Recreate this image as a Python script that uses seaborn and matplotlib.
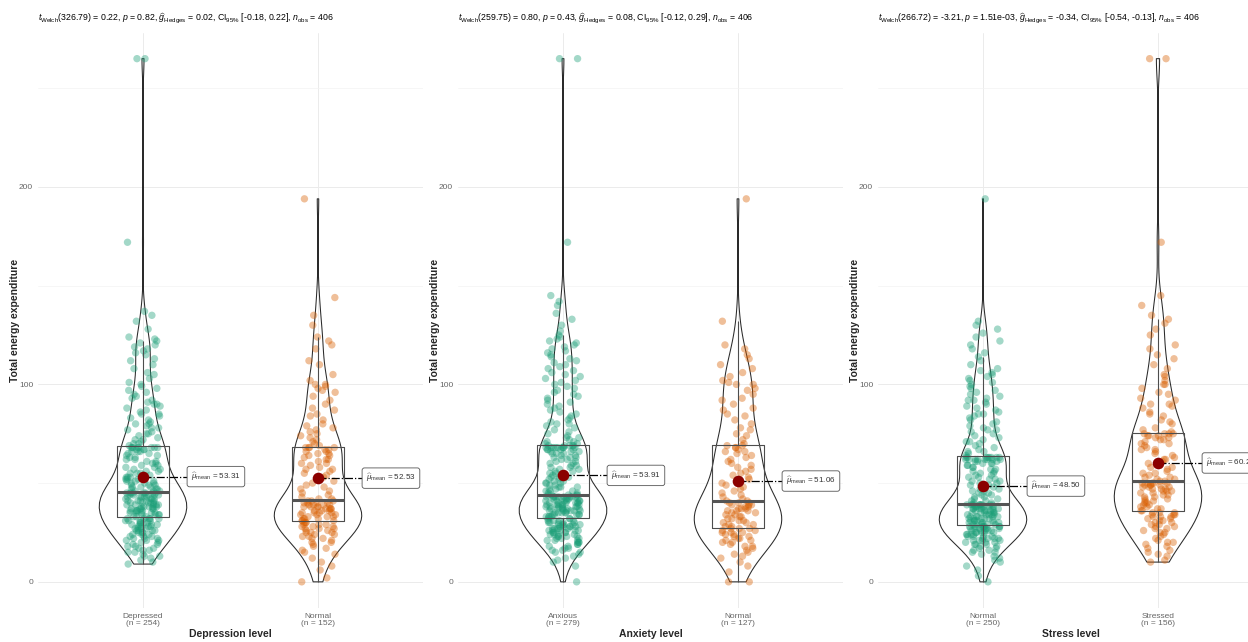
import numpy as np
import pandas as pd
import matplotlib
matplotlib.use("Agg")
import matplotlib.pyplot as plt
import seaborn as sns

# Total energy expenditure values, one list per group
dep_depressed = [
    9, 10, 11, 12, 13, 13, 14, 15, 15, 16, 16, 17, 17, 18, 18, 19, 19, 20, 20, 21,
    21, 21, 22, 22, 22, 23, 23, 23, 24, 24, 24, 25, 25, 25, 26, 26, 26, 26, 27, 27,
    27, 27, 28, 28, 28, 28, 29, 29, 29, 29, 30, 30, 30, 30, 31, 31, 31, 31, 32, 32,
    32, 32, 32,
    33, 33, 33, 34, 34, 34, 34, 35, 35, 35, 35, 35, 36, 36, 36, 36, 36, 37, 37, 37,
    37, 37, 38, 38, 38, 38, 38, 39, 39, 39, 39, 39, 40, 40, 40, 40, 40, 41, 41, 41,
    41, 41, 42, 42, 42, 42, 43, 43, 43, 43, 43, 44, 44, 44, 44, 44, 45, 45, 45, 45,
    45, 45, 45, 45,
    46, 46, 46, 47, 47, 47, 48, 48, 48, 49, 49, 49, 50, 50, 50, 51, 51, 51, 52, 52,
    52, 53, 53, 53, 54, 54, 55, 55, 55, 56, 56, 57, 57, 58, 58, 59, 59, 60, 60, 61,
    61, 62, 62, 63, 63, 64, 64, 65, 65, 66, 66, 66, 67, 67, 67, 68, 68, 68, 68, 68,
    68, 68, 68,
    69, 70, 70, 71, 72, 72, 73, 74, 75, 75, 76, 77, 78, 78, 79, 80, 80, 81, 82, 83,
    84, 85, 86, 87, 88, 89, 90, 91, 92, 93, 94, 95, 96, 97, 98, 99, 100, 101, 103, 105,
    106, 108, 110, 112, 113, 115, 116, 117, 118, 119, 120, 121, 122, 123, 124, 128, 132, 135, 137,
    85, 90, 172, 265, 265,
]
dep_normal = [
    0, 2, 6, 8, 10, 12, 14, 15, 16, 17, 18, 19, 20, 20, 21, 22, 22, 23, 23, 24,
    24, 25, 25, 25, 26, 26, 27, 27, 27, 28, 28, 28, 29, 29, 29, 30, 30, 30,
    31, 31, 31, 32, 32, 32, 33, 33, 33, 34, 34, 34, 35, 35, 35, 35, 36, 36, 36, 37,
    37, 37, 37, 38, 38, 38, 38, 39, 39, 39, 39, 40, 40, 40, 40, 41, 41, 41,
    42, 42, 43, 44, 45, 46, 47, 48, 49, 50, 51, 52, 53, 54, 55, 56, 57, 57, 58, 59,
    60, 60, 61, 62, 62, 63, 64, 64, 65, 65, 66, 66, 67, 67, 68, 68, 68, 68,
    69, 70, 71, 72, 73, 74, 75, 76, 77, 78, 79, 80, 82, 84, 85, 87, 88, 90, 92, 94,
    96, 97, 98, 99, 100, 100, 102, 105, 110, 112, 118, 120, 122, 124, 130, 135, 144, 194,
]
anx_anxious = [
    0, 8, 10, 11, 12, 13, 14, 15, 15, 16, 16, 17, 17, 18, 18, 19, 19, 20, 20, 20,
    21, 21, 21, 22, 22, 22, 23, 23, 23, 23, 24, 24, 24, 24, 25, 25, 25, 25, 26, 26,
    26, 26, 26, 27, 27, 27, 27, 27, 28, 28, 28, 28, 28, 29, 29, 29, 29, 29, 30, 30,
    30, 30, 30, 31, 31, 31, 31, 32, 32, 32,
    33, 33, 33, 33, 34, 34, 34, 34, 34, 35, 35, 35, 35, 35, 36, 36, 36, 36, 36, 36,
    37, 37, 37, 37, 37, 37, 38, 38, 38, 38, 38, 38, 39, 39, 39, 39, 39, 39, 40, 40,
    40, 40, 40, 40, 41, 41, 41, 41, 41, 41, 42, 42, 42, 42, 42, 42, 43, 43, 43, 43,
    43, 43, 43, 43, 43, 44, 44, 44, 44, 44,
    45, 45, 46, 46, 46, 47, 47, 48, 48, 48, 49, 49, 50, 50, 50, 51, 51, 52, 52, 53,
    53, 53, 54, 54, 55, 55, 56, 56, 57, 57, 58, 58, 59, 59, 60, 60, 61, 61, 62, 62,
    63, 63, 63, 64, 64, 65, 65, 65, 66, 66, 66, 67, 67, 67, 67, 68, 68, 68, 68, 68,
    68, 68, 68, 68, 69, 69, 69, 69, 69,
    70, 70, 71, 71, 72, 73, 73, 74, 75, 76, 77, 78, 79, 80, 80, 81, 82, 83, 84, 85,
    86, 87, 88, 89, 90, 91, 92, 93, 94, 95, 96, 97, 98, 99, 100, 101, 102, 103, 104, 105,
    106, 107, 108, 109, 110, 111, 112, 113, 114, 115, 116, 117, 118, 119, 120, 121, 122, 123, 124, 125,
    127, 130, 133, 136, 140, 142, 145, 172, 265, 265,
]
anx_normal = [
    0, 0, 5, 8, 10, 12, 13, 14, 15, 16, 17, 18, 18, 19, 20, 20, 21, 21, 22, 22,
    23, 23, 24, 24, 25, 25, 25, 26, 26, 27, 27, 27,
    28, 28, 29, 29, 30, 30, 31, 31, 32, 32, 33, 33, 34, 34, 35, 35, 36, 36, 36, 37,
    37, 37, 38, 38, 39, 39, 39, 40, 40, 40, 41, 41,
    42, 43, 44, 45, 46, 47, 48, 49, 50, 51, 52, 53, 54, 55, 56, 57, 58, 59, 60, 61,
    62, 63, 64, 65, 66, 66, 67, 68, 68, 69, 69,
    70, 72, 74, 75, 77, 78, 80, 82, 84, 85, 87, 88, 90, 92, 93, 95, 97, 98, 100, 100,
    101, 102, 104, 106, 108, 110, 113, 115, 118, 120, 132, 194,
]
str_normal = [
    0, 3, 6, 8, 10, 11, 12, 13, 14, 15, 15, 16, 16, 17, 17, 18, 18, 19, 19, 19,
    20, 20, 20, 21, 21, 21, 21, 22, 22, 22, 22, 23, 23, 23, 23, 24, 24, 24, 24, 25,
    25, 25, 25, 25, 26, 26, 26, 26, 26, 27, 27, 27, 27, 27, 27, 28, 28, 28, 28, 28,
    28, 28,
    29, 29, 29, 29, 29, 30, 30, 30, 30, 30, 31, 31, 31, 31, 31, 32, 32, 32, 32, 32,
    33, 33, 33, 33, 33, 34, 34, 34, 34, 34, 35, 35, 35, 35, 35, 36, 36, 36, 36, 36,
    37, 37, 37, 37, 37, 37, 38, 38, 38, 38, 38, 38, 38, 39, 39, 39, 39, 39, 39, 39,
    39, 39, 39,
    40, 40, 41, 41, 42, 42, 43, 43, 44, 44, 45, 45, 46, 46, 47, 47, 48, 48, 49, 49,
    50, 50, 51, 51, 52, 52, 53, 53, 54, 54, 55, 55, 56, 56, 57, 57, 58, 58, 59, 59,
    60, 60, 60, 61, 61, 61, 62, 62, 62, 62, 62, 62, 62, 62, 63, 63, 63, 63, 63, 63,
    63, 63,
    64, 65, 66, 67, 68, 69, 70, 71, 72, 73, 74, 75, 76, 77, 78, 79, 80, 81, 82, 83,
    84, 85, 86, 87, 88, 89, 90, 91, 92, 93, 94, 95, 96, 97, 98, 99, 100, 101, 102, 103,
    104, 105, 106, 107, 108, 110, 112, 114, 116, 118, 120, 122, 124, 126, 128, 130, 132, 194,
    66, 71, 77, 85, 92,
]
str_stressed = [
    10, 11, 13, 14, 15, 16, 17, 18, 19, 20, 20, 21, 22, 23, 24, 25, 25, 26, 27, 27,
    28, 28, 29, 29, 30, 30, 31, 31, 32, 32, 33, 33, 33, 34, 34, 34, 35, 35, 35,
    36, 36, 37, 37, 38, 38, 39, 39, 40, 40, 41, 41, 42, 42, 43, 43, 44, 44, 45, 45,
    46, 46, 46, 47, 47, 47, 48, 48, 48, 49, 49, 49, 49, 50, 50, 50, 50, 50, 51,
    51, 52, 52, 53, 53, 54, 55, 55, 56, 57, 58, 58, 59, 60, 61, 62, 62, 63, 64, 65,
    66, 67, 67, 68, 69, 70, 70, 71, 72, 72, 73, 73, 74, 74, 74, 75, 75, 75, 75,
    76, 77, 78, 80, 81, 82, 84, 85, 86, 88, 89, 90, 92, 93, 95, 96, 98, 100, 100, 102,
    104, 105, 108, 110, 113, 115, 118, 120, 125, 128, 131, 133, 135, 140, 145, 172, 265, 265,
    90,
]

group_labels = [["Depressed", "Normal"], ["Anxious", "Normal"], ["Normal", "Stressed"]]
group_values = [[dep_depressed, dep_normal], [anx_anxious, anx_normal], [str_normal, str_stressed]]
x_titles = ["Depression level", "Anxiety level", "Stress level"]
mean_values = [[53.31, 52.53], [53.91, 51.06], [48.50, 60.20]]
subtitles = [
    r"$t_{\mathrm{Welch}}$(326.79) = 0.22, $p$ = 0.82, $\widehat{g}_{\mathrm{Hedges}}$ = 0.02, CI$_{95\%}$ [-0.18, 0.22], $n_{\mathrm{obs}}$ = 406",
    r"$t_{\mathrm{Welch}}$(259.75) = 0.80, $p$ = 0.43, $\widehat{g}_{\mathrm{Hedges}}$ = 0.08, CI$_{95\%}$ [-0.12, 0.29], $n_{\mathrm{obs}}$ = 406",
    r"$t_{\mathrm{Welch}}$(266.72) = -3.21, $p$ = 1.51e-03, $\widehat{g}_{\mathrm{Hedges}}$ = -0.34, CI$_{95\%}$ [-0.54, -0.13], $n_{\mathrm{obs}}$ = 406",
]
colors = ["#1B9E77", "#D95F02"]


def nrd0_factor(v):
    # R's default bandwidth (bw.nrd0), expressed as a factor of the std for scipy
    v = np.asarray(v, dtype=float)
    sd = v.std(ddof=1)
    iqr = np.subtract(*np.percentile(v, [75, 25]))
    bw = 0.9 * min(sd, iqr / 1.34) * len(v) ** -0.2
    return bw / sd


sns.set_theme(style="white")
plt.rcParams["font.family"] = ["Liberation Sans", "DejaVu Sans"]
plt.rcParams["mathtext.fontset"] = "custom"
plt.rcParams["mathtext.rm"] = "Liberation Sans"
plt.rcParams["mathtext.it"] = "Liberation Sans:italic"
plt.rcParams["mathtext.bf"] = "Liberation Sans:bold"

np.random.seed(7)
fig = plt.figure(figsize=(12.48, 6.42), dpi=100)
W, H = 1248, 642

for i in range(3):
    labels = group_labels[i]
    vals = group_values[i]
    df = pd.DataFrame({
        "group": [labels[0]] * len(vals[0]) + [labels[1]] * len(vals[1]),
        "value": list(vals[0]) + list(vals[1]),
    })
    left = 38 + 420 * i
    ax = fig.add_axes([left / W, 1 - 608 / H, 385 / W, (608 - 32.5) / H])

    sns.stripplot(data=df, x="group", y="value", hue="group", order=labels,
                  hue_order=labels, palette=colors, jitter=0.1, size=5.3,
                  alpha=0.4, linewidth=0, legend=False, ax=ax, zorder=2)
    sns.boxplot(data=df, x="group", y="value", order=labels, width=0.3,
                fill=False, color="#4d4d4d", linewidth=0.8, showfliers=False,
                showcaps=False, whis=1.5,
                medianprops=dict(color="#555555", linewidth=2.2), ax=ax)
    for lab, v in zip(labels, vals):
        sub = df[df["group"] == lab]
        sns.violinplot(data=sub, x="group", y="value", order=labels, width=0.5,
                       fill=False, color="#2a2a2a", linewidth=0.75, inner=None,
                       cut=0, density_norm="width", bw_method=nrd0_factor(v), ax=ax)

    for j, m in enumerate(mean_values[i]):
        ax.plot([j, j + 0.26], [m, m], color="black", lw=0.9, ls="-.", zorder=4)
        ax.scatter([j], [m], s=70, color="darkred", zorder=5, linewidths=0)
        ax.text(j + 0.275, m, r"$\widehat{\mu}_{\mathrm{mean}}$ = " + f"{m:.2f}",
                fontsize=5.8, color="#333333", va="center", ha="left", zorder=6,
                bbox=dict(boxstyle="round,pad=0.5,rounding_size=0.3",
                          fc="white", ec="#555555", lw=0.6))

    ax.set_xlim(-0.6, 1.6)
    ax.set_ylim(-13.25, 278.25)
    ax.set_yticks([0, 100, 200])
    ax.set_yticks([50, 150, 250], minor=True)
    ax.set_xticks([0, 1])
    ax.set_xticklabels([f"{lab}\n(n = {len(v)})" for lab, v in zip(labels, vals)])
    ax.grid(which="major", color="#ebebeb", lw=0.7)
    ax.grid(which="minor", axis="y", color="#f3f3f3", lw=0.5)
    ax.set_axisbelow(True)
    for s in ax.spines.values():
        s.set_visible(False)
    ax.tick_params(axis="both", which="major", length=2, width=0.6, color="#999999",
                   labelcolor="#666666", labelsize=6, pad=1.5)
    ax.tick_params(axis="y", which="minor", length=0)
    for t in ax.get_xticklabels():
        t.set_linespacing(1.1)

    ax.set_xlabel(x_titles[i], fontsize=7.5, fontweight="bold", labelpad=1.5)
    ax.set_ylabel("Total energy expenditure", fontsize=7.5, fontweight="bold")
    ax.yaxis.set_label_coords(-0.047, 0.5)
    ax.annotate(subtitles[i], xy=(0, 1), xycoords="axes fraction",
                xytext=(0, 9.7), textcoords="offset points",
                ha="left", va="center", fontsize=6.3, color="black")

fig.savefig("out.png", dpi=100)
